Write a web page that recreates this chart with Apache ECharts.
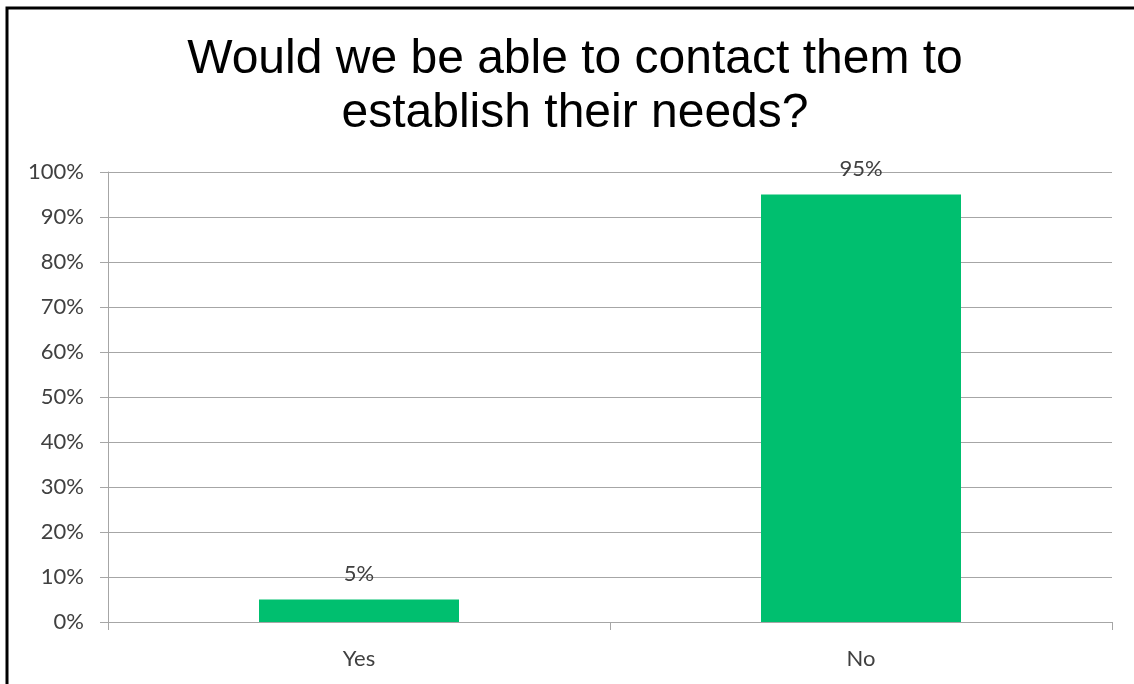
<!DOCTYPE html>
<html>
<head>
<meta charset="utf-8">
<script src="https://cdn.jsdelivr.net/npm/echarts@6/dist/echarts.min.js"></script>
<style>
  html, body { margin: 0; padding: 0; background: #fff; }
  #chart { width: 1134px; height: 684px; }
</style>
</head>
<body>
<div id="chart"></div>
<script>
// Survey answers and their shares
const categories = ['Yes', 'No'];
const shares = [0.05, 0.95];
const yTicks = [0, 0.1, 0.2, 0.3, 0.4, 0.5, 0.6, 0.7, 0.8, 0.9, 1.0];

const titleText = 'Would we be able to contact them to\nestablish their needs?';
const gridGray = '#a6a6a6';
const textGray = '#404040';
const labelFont = 'Lato, "Open Sans", sans-serif';

const chart = echarts.init(document.getElementById('chart'));
chart.setOption({
  animation: false,
  backgroundColor: '#ffffff',
  title: {
    text: titleText,
    left: 570,
    textAlign: 'center',
    top: 28,
    textStyle: {
      fontFamily: '"Liberation Sans", Arial, sans-serif',
      fontSize: 48,
      fontWeight: 'normal',
      color: '#000',
      lineHeight: 54
    }
  },
  graphic: [{
    type: 'polyline',
    shape: { points: [[7, 720], [7, 8], [1200, 8]] },
    style: { fill: null, stroke: '#000', lineWidth: 3 },
    silent: true
  }],
  grid: { left: 108, right: 22, top: 172, bottom: 62, containLabel: false },
  xAxis: {
    type: 'category',
    data: categories,
    axisLine: { show: true, lineStyle: { color: gridGray, width: 1 } },
    axisTick: { show: true, length: 8, lineStyle: { color: gridGray } },
    axisLabel: { color: textGray, fontSize: 22, fontFamily: labelFont, margin: 26 }
  },
  yAxis: {
    type: 'value',
    min: 0,
    max: 1,
    interval: 0.1,
    axisLine: { show: true, lineStyle: { color: gridGray, width: 1 } },
    axisTick: { show: true, length: 8, lineStyle: { color: gridGray } },
    splitLine: { show: true, lineStyle: { color: gridGray, width: 1 } },
    axisLabel: {
      color: textGray,
      fontSize: 22,
      fontFamily: labelFont,
      margin: 24,
      formatter: v => {
        const hit = yTicks.find(t => Math.abs(t - v) < 1e-9);
        return hit === undefined ? '' : Math.round(hit * 100) + '%';
      }
    }
  },
  series: [{
    type: 'bar',
    data: shares,
    barWidth: 200,
    itemStyle: { color: '#00bf6f' },
    label: {
      show: true,
      position: 'top',
      distance: 15,
      color: textGray,
      fontSize: 22,
      fontFamily: labelFont,
      formatter: p => Math.round(p.value * 100) + '%'
    }
  }]
});
</script>
</body>
</html>
